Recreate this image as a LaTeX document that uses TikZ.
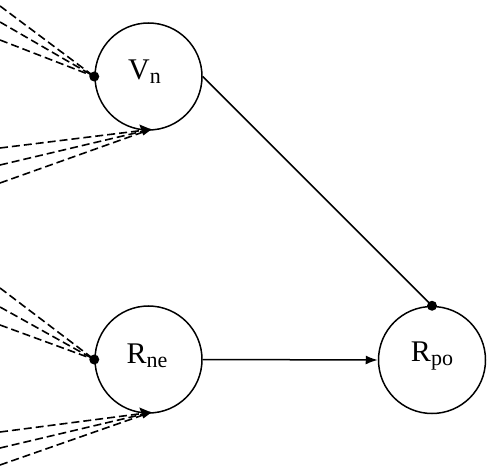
\documentclass[tikz,border=0pt]{standalone}
\usepackage{fontspec}
\setmainfont{Liberation Serif}
\usetikzlibrary{arrows.meta,calc}
\newcommand\lowsub[1]{\raisebox{-0.28ex}{\fontsize{22}{22}\selectfont #1}}
\tikzset{
  unit/.style={circle, draw, line width=1.5pt, minimum size=107pt, inner sep=0pt},
  lbl/.style={inner sep=0pt, font=\fontsize{30}{32}\selectfont},
  feed/.style={line width=1.6pt, dash pattern=on 8pt off 4pt},
  dotend/.style={fill, circle, inner sep=0pt, minimum size=10pt},
  conn/.style={line width=1.5pt},
  tip/.style={-{Latex[length=12pt,width=9pt]}}
}
\begin{document}
\begin{tikzpicture}[x=1pt,y=-1pt]
\useasboundingbox (0,0) rectangle (490,473);
\node[unit] (vn) at (148.5,76.5) {};
\node[unit] (rne) at (148.5,359.5) {};
\node[unit] (rpo) at (432,360) {};
\node[lbl] (vnl) at ($(vn.center)+(-4,-5)$) {V\lowsub{n}};
\node[lbl] (rnel) at ($(rne.center)+(-1.5,-4)$) {R\lowsub{ne}};
\node[lbl] (rpol) at ($(rpo.center)+(0,-4)$) {R\lowsub{po}};
% dots
\node[dotend] (vdot) at (vn.west) {};
\node[dotend] (rdot) at (rne.west) {};
\node[dotend] (pdot) at (rpo.north) {};
% arrow tips on bottom
\coordinate (vtip) at ($(vn.center)+(88:53)$);
\coordinate (rtip) at ($(rne.center)+(88:53)$);
% inputs V_n
\coordinate (a1) at (0,6);
\coordinate (a2) at (0,22);
\coordinate (a3) at (0,40);
\foreach \c in {a1,a2,a3} \draw[feed] (\c) -- (vdot.center);
\coordinate (b1) at (0,148);
\coordinate (b2) at (0,165);
\coordinate (b3) at (0,183);
\foreach \c in {b1,b2,b3} \draw[feed] (\c) -- (vtip);
\fill ($(vtip)+(1,0)$) -- ($(vtip)+(-11,-5)$) -- ($(vtip)+(-7,6)$) -- cycle;
% inputs R_ne
\coordinate (c1) at (0,288);
\coordinate (c2) at (0,307);
\coordinate (c3) at (0,325);
\foreach \c in {c1,c2,c3} \draw[feed] (\c) -- (rdot.center);
\coordinate (d1) at (0,432);
\coordinate (d2) at (0,448);
\coordinate (d3) at (0,465);
\foreach \c in {d1,d2,d3} \draw[feed] (\c) -- (rtip);
\fill ($(rtip)+(1,0)$) -- ($(rtip)+(-11,-5)$) -- ($(rtip)+(-7,6)$) -- cycle;
% connections
\draw[conn] (vn.east) -- (pdot.center);
\draw[conn,tip] (rne.east) -- (rpo.west);
\end{tikzpicture}
\end{document}
